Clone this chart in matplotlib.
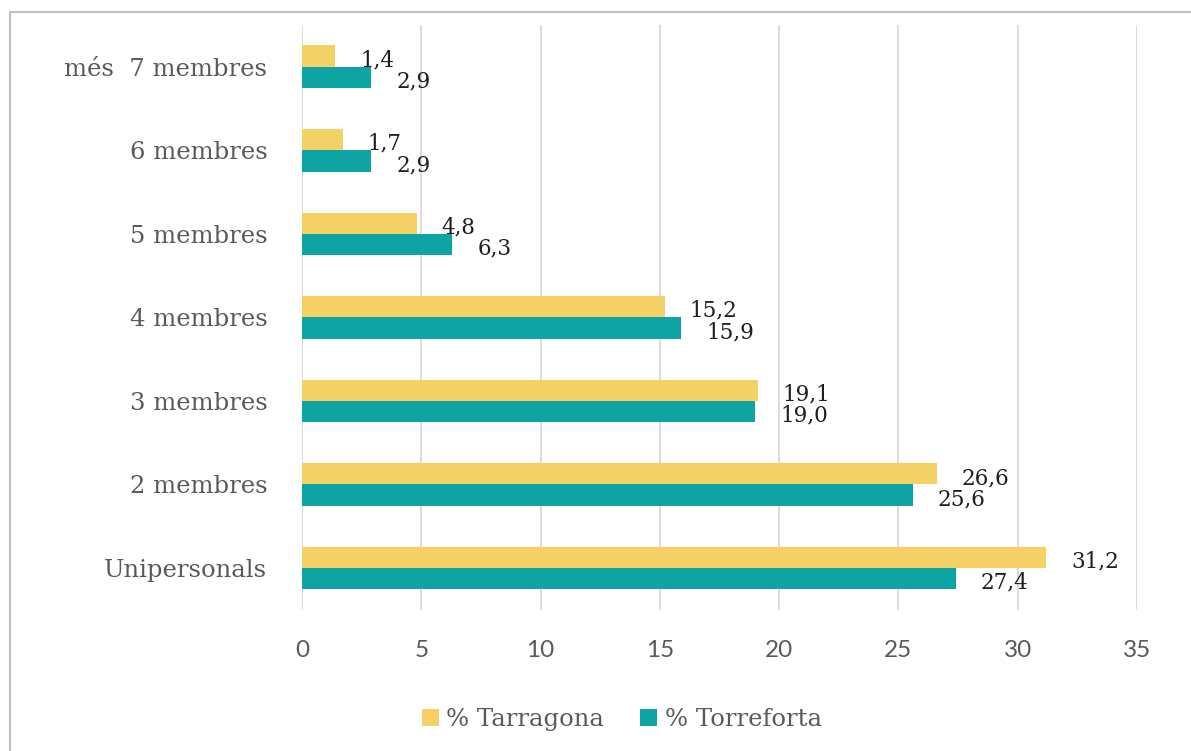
import matplotlib
matplotlib.use("Agg")
import matplotlib.pyplot as plt
from matplotlib.patches import Rectangle
import numpy as np

categories = ["Unipersonals", "2 membres", "3 membres", "4 membres",
              "5 membres", "6 membres", "més  7 membres"]
tarragona = [31.2, 26.6, 19.1, 15.2, 4.8, 1.7, 1.4]
torreforta = [27.4, 25.6, 19.0, 15.9, 6.3, 2.9, 2.9]
labels_tarragona = ["31,2", "26,6", "19,1", "15,2", "4,8", "1,7", "1,4"]
labels_torreforta = ["27,4", "25,6", "19,0", "15,9", "6,3", "2,9", "2,9"]
xticks = [0, 5, 10, 15, 20, 25, 30, 35]

yellow = '#F4D164'
teal = '#0FA4A4'
serif = 'DejaVu Serif'
sans = 'Lato'

fig = plt.figure(figsize=(11.91, 7.51), dpi=100)
ax = fig.add_axes([0.2536, 0.188, 0.7011, 0.7787])

y = np.arange(len(categories))
h = 0.255
ax.barh(y + h / 2, tarragona, height=h, color=yellow, label='% Tarragona', zorder=3)
ax.barh(y - h / 2, torreforta, height=h, color=teal, label='% Torreforta', zorder=3)

# data labels, a bit to the right of each bar end
for i in range(len(categories)):
    ax.annotate(labels_tarragona[i], (tarragona[i], y[i] + h / 2), xytext=(18, -3),
                textcoords='offset points', ha='left', va='center',
                fontsize=15.5, family=serif, color='#1E1E1E', zorder=4)
    ax.annotate(labels_torreforta[i], (torreforta[i], y[i] - h / 2), xytext=(18, -3),
                textcoords='offset points', ha='left', va='center',
                fontsize=15.5, family=serif, color='#1E1E1E', zorder=4)

ax.set_xlim(0, 35)
ax.set_ylim(-0.5, 6.5)
ax.set_xticks(xticks)
ax.set_yticks(y)
ax.set_yticklabels(categories, family=serif, fontsize=17.5, color='#595959')
for lab in ax.get_xticklabels():
    lab.set_family(sans)
    lab.set_fontsize(17.5)
    lab.set_color('#595959')
ax.tick_params(axis='y', length=0, pad=25)
ax.tick_params(axis='x', length=0, pad=22)

ax.grid(axis='x', color='#D9D9D9', linewidth=1.3, zorder=0)
for s in ax.spines.values():
    s.set_visible(False)

leg = fig.legend(loc='center', bbox_to_anchor=(0.522, 0.042), ncol=2, frameon=False,
                 prop={'family': serif, 'size': 17.5}, handlelength=0.7, handleheight=0.7,
                 handletextpad=0.3, columnspacing=1.5)
for t in leg.get_texts():
    t.set_color('#595959')

# outer frame of the chart
fig.patches.append(Rectangle((10 / 1191, -0.05), 1.2, 1 - 12 / 751 + 0.05,
                             transform=fig.transFigure, fill=False,
                             edgecolor='#BFBFBF', linewidth=1.5))

fig.savefig("out.png", dpi=100)
